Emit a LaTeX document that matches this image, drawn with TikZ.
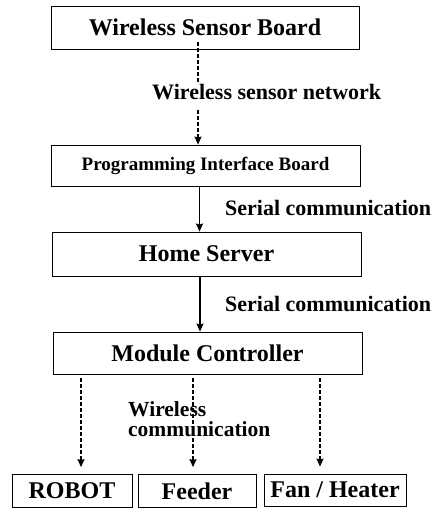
\documentclass[tikz,border=0pt]{standalone}
\usepackage{fontspec}
\setmainfont{Liberation Serif}
\usetikzlibrary{arrows.meta}
\tikzset{
  blk/.style={draw,line width=0.8pt,inner sep=0pt,font=\bfseries\fontsize{24}{28}\selectfont},
  lbl/.style={inner sep=0pt,font=\bfseries\fontsize{22}{24}\selectfont},
  dsh/.style={dash pattern=on 4pt off 2pt,line width=1.2pt},
  sld/.style={line width=1.4pt},
  tip/.style={-{Stealth[length=8pt,width=7pt,inset=1pt]}}
}
\begin{document}
\begin{tikzpicture}[x=1pt,y=-1pt]
\useasboundingbox (0,0) rectangle (438,518);

\node (wsb) at (205,27.5)[blk,minimum width=308pt,minimum height=43pt]{Wireless Sensor Board};
\node (pib) at (205.5,165.5)[blk,minimum width=309pt,minimum height=41pt,font=\bfseries\fontsize{19}{22}\selectfont]{Programming Interface Board};
\node (hs) at (206.5,254)[blk,minimum width=309pt,minimum height=44pt]{Home Server};
\node (mc) at (207.5,353)[blk,minimum width=309pt,minimum height=42pt]{Module Controller};

\node (robot) at (72,491)[blk,minimum width=120pt,minimum height=33pt]{ROBOT};
\node (feeder) at (197,491)[blk,minimum width=118pt,minimum height=33pt]{Feeder};
\node (fan) at (335,490)[blk,minimum width=142pt,minimum height=32pt]{Fan / Heater};

\node (wsn) at (152,100)[lbl,anchor=base west]{Wireless sensor network};
\node (sc1) at (225,216)[lbl,anchor=base west]{Serial communication};
\node (sc2) at (225,311.5)[lbl,anchor=base west]{Serial communication};
\node (wc) at (128,419.5)[lbl,anchor=west,align=left,font=\bfseries\fontsize{21.5}{20}\selectfont]{Wireless\\communication};

\coordinate (w1) at (198,82);
\coordinate (w2) at (198,110);
\draw[dsh,shorten <=-7pt] (wsb.south -| w1) -- (w1);
\draw[dsh,tip] (w2) -- (pib.north -| w2);

\coordinate (s1) at (199.5,0);
\coordinate (s2) at (200,0);
\draw[sld,tip] (pib.south -| s1) -- (hs.north -| s1);
\draw[sld,tip] (hs.south -| s2) -- (mc.north -| s2);

\coordinate (d1) at (81,0);
\coordinate (d2) at (193,0);
\coordinate (d3) at (320,0);
\draw[dsh,tip,shorten <=4pt,shorten >=7pt] (mc.south -| d1) -- (robot.north -| d1);
\draw[dsh,tip,shorten <=4pt,shorten >=7pt] (mc.south -| d2) -- (feeder.north -| d2);
\draw[dsh,tip,shorten <=4pt,shorten >=7pt] (mc.south -| d3) -- (fan.north -| d3);

\end{tikzpicture}
\end{document}
